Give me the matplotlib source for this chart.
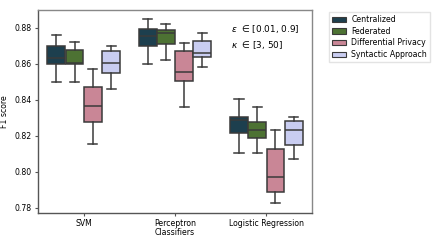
import matplotlib
matplotlib.use("Agg")
import matplotlib.pyplot as plt
from matplotlib.patches import Patch

categories = ["SVM", "Perceptron", "Logistic Regression"]
methods = ["Centralized", "Federated", "Differential Privacy", "Syntactic Approach"]
colors = ["#1d3f4e", "#4d7233", "#c98696", "#c9cdf1"]

# [whislo, q1, med, q3, whishi] per category
centralized = [[0.850, 0.860, 0.8635, 0.870, 0.876],
               [0.860, 0.8702, 0.8757, 0.8796, 0.8852],
               [0.8102, 0.8213, 0.8287, 0.8302, 0.8404]]
federated = [[0.850, 0.860, 0.8605, 0.868, 0.8722],
             [0.862, 0.8713, 0.8774, 0.8789, 0.8822],
             [0.8102, 0.8187, 0.823, 0.8276, 0.8361]]
diff_privacy = [[0.8152, 0.8276, 0.8363, 0.8472, 0.8572],
                [0.8361, 0.8502, 0.8554, 0.8669, 0.8715],
                [0.7824, 0.7887, 0.7972, 0.8128, 0.8231]]
syntactic = [[0.8461, 0.855, 0.8604, 0.8674, 0.8702],
             [0.8581, 0.8639, 0.8659, 0.8726, 0.877],
             [0.8072, 0.815, 0.823, 0.8281, 0.8304]]
series = [centralized, federated, diff_privacy, syntactic]

fig = plt.figure(figsize=(4.32, 2.4), dpi=100)
ax = fig.add_axes([38/432, 1 - 213/240, 274/432, 203/240])

width = 0.8 / len(methods)
lc = "#3a3a3a"
for j, (m, data, c) in enumerate(zip(methods, series, colors)):
    stats = []
    for vals in data:
        lo, q1, med, q3, hi = vals
        stats.append(dict(whislo=lo, q1=q1, med=med, q3=q3, whishi=hi, fliers=[]))
    pos = [i - 0.4 + width * (j + 0.5) for i in range(len(categories))]
    ax.bxp(stats, positions=pos, widths=width * 0.98, patch_artist=True, showfliers=False,
           boxprops=dict(facecolor=c, edgecolor=lc, linewidth=1.1),
           medianprops=dict(color=lc, linewidth=1.1),
           whiskerprops=dict(color=lc, linewidth=1.1),
           capprops=dict(color=lc, linewidth=1.1),
           capwidths=width * 0.5, manage_ticks=False)

fs = 5.6
ax.set_xlim(-0.5, 2.5)
ax.set_ylim(0.777, 0.890)
ax.set_xticks(range(len(categories)))
ax.set_xticklabels(categories, fontsize=fs)
ax.set_yticks([0.78, 0.80, 0.82, 0.84, 0.86, 0.88])
ax.set_yticklabels(["0.78", "0.80", "0.82", "0.84", "0.86", "0.88"], fontsize=fs)
ax.tick_params(length=2.5, width=0.8, pad=2, color="#555555")
ax.set_ylabel("F1 score", fontsize=fs, labelpad=4)
ax.set_xlabel("Classifiers", fontsize=fs, labelpad=-0.5)
for s in ax.spines.values():
    s.set_color("#888888")
    s.set_linewidth(1.0)
ax.spines["left"].set_color("#555555")
ax.spines["bottom"].set_color("#555555")

ax.text(0.705, 0.935, "$\\epsilon$  \u2208 [0.01, 0.9]\n$\\kappa$  \u2208 [3, 50]", transform=ax.transAxes,
        fontsize=6.4, va="top", ha="left", linespacing=1.45)

handles = [Patch(facecolor=c, edgecolor=lc, linewidth=0.8, label=m) for m, c in zip(methods, colors)]
fig.legend(handles=handles, loc="upper left", bbox_to_anchor=(325/432, 1 - 8/240), fontsize=fs,
           frameon=True, handlelength=1.8, handleheight=0.7, borderpad=0.4, labelspacing=0.35,
           handletextpad=0.7, fancybox=False, edgecolor="#dddddd")

fig.savefig("out.png", dpi=100)
